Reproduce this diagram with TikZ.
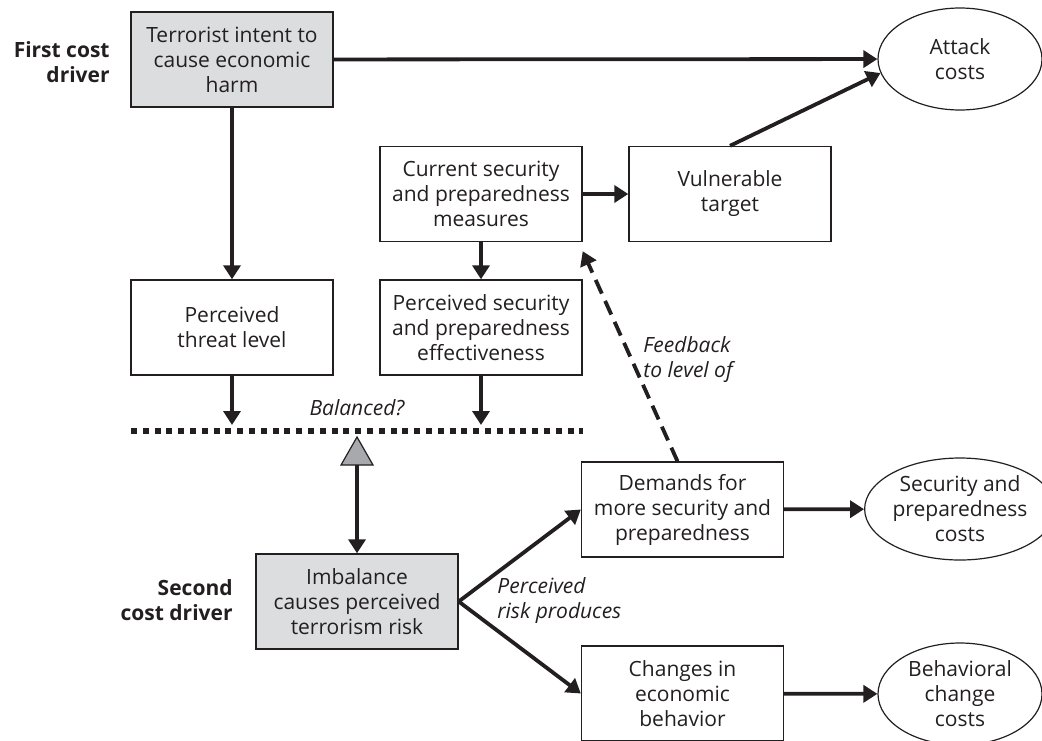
\documentclass[tikz,border=0pt]{standalone}
\usepackage{fontspec}
\setmainfont{Open Sans}
\usepackage{tikz}
\usetikzlibrary{calc}
\usetikzlibrary{arrows.meta}
\usetikzlibrary{shapes}
\usetikzlibrary{shapes.geometric}
\definecolor{ink}{HTML}{231F20}
\definecolor{boxgray}{HTML}{DCDDDF}
\definecolor{pivotgray}{HTML}{A7A9AC}
\newcommand{\figfont}{\fontsize{10.5}{12.5}\selectfont}
\tikzset{>={Triangle[length=7pt,width=8.5pt]}}
\tikzstyle{stage} = [draw=ink, line width=0.7pt, rectangle, minimum width=101pt, minimum height=47.5pt, inner sep=0, align=center, text=ink, font=\figfont]
\tikzstyle{driver} = [stage, fill=boxgray]
\tikzstyle{cost} = [draw=ink, line width=0.6pt, ellipse, minimum width=82pt, minimum height=51pt, inner sep=0, align=center, text=ink, font=\figfont]
\tikzstyle{flow} = [->, draw=ink, line width=1.9pt]
\tikzstyle{feedback} = [flow, dash pattern=on 7.5pt off 4pt]
\tikzstyle{note} = [draw=none, inner sep=0, align=left, text=ink, font=\figfont\itshape]
\tikzstyle{side} = [draw=none, inner sep=0, align=right, text=ink, font=\figfont\bfseries]

\begin{document}
\begin{tikzpicture}[x=0.5pt, y=-0.5pt]
\useasboundingbox (0,0) rectangle (1042,740);
% boxes
\node [driver] (term) at (232, 59.5) {Terrorist intent to\\cause economic\\harm};
\node [stage]  (cur)  at (481, 194) {Current security\\and preparedness\\measures};
\node [stage]  (vul)  at (730, 194) {Vulnerable\\target};
\node [stage]  (thr)  at (232, 327.5) {Perceived\\threat level};
\node [stage]  (eff)  at (481, 327.5) {Perceived security\\and preparedness\\effectiveness};
\node [driver] (imb)  at (357, 601.5) {Imbalance\\causes perceived\\terrorism risk};
\node [stage]  (dem)  at (682.5, 509.5) {Demands for\\more security and\\preparedness};
\node [stage]  (chg)  at (682.5, 693.5) {Changes in\\economic\\behavior};
% costs
\node [cost] (atk) at (960, 59) {Attack\\costs};
\node [cost] (sec) at (960, 509) {Security and\\preparedness\\costs};
\node [cost] (beh) at (960, 694) {Behavioral\\change\\costs};
% labels
\node [side, anchor=east] (first)  at (110, 62) {First cost\\driver};
\node [side, anchor=east] (second) at (233, 600.5) {Second\\cost driver};
\node [note] (bal) at (357, 408) {Balanced?};
\node [note, anchor=west] (fb)   at (643, 360) {Feedback\\to level of};
\node [note, anchor=west] (risk) at (497, 600.5) {Perceived\\risk produces};
% balance beam and pivot
\coordinate (beamL) at (131, 431);
\coordinate (beamR) at (583, 431);
\coordinate (pivot) at (357, 465);
\draw [draw=ink, line width=3pt, dash pattern=on 3pt off 2.9pt] (beamL) -- (beamR);
\draw [draw=ink, fill=pivotgray, line width=0.6pt] (pivot) ++(-16,0) -- ++(32,0) -- ++(-16,-28) -- cycle;
% arrows
\draw [flow] (term) to (atk);
\draw [flow] (term) to (thr);
\draw [flow] (cur) to (vul);
\draw [flow] (vul.north) to (atk.190);
\draw [flow] (cur) to (eff);
\draw [flow, shorten >=3pt] (thr) to (thr |- beamL);
\draw [flow, shorten >=3pt] (eff) to (eff |- beamL);
\draw [flow] (pivot) to (imb.north);
\draw [flow] (imb.east) to (dem.west);
\draw [flow] (imb.east) to (chg.west);
\draw [flow] (dem) to (sec);
\draw [flow] (chg) to (beh);
\draw [feedback] ([xshift=-2.5pt]dem.north) to ([yshift=-4.5pt]cur.south east);
\end{tikzpicture}
\end{document}
